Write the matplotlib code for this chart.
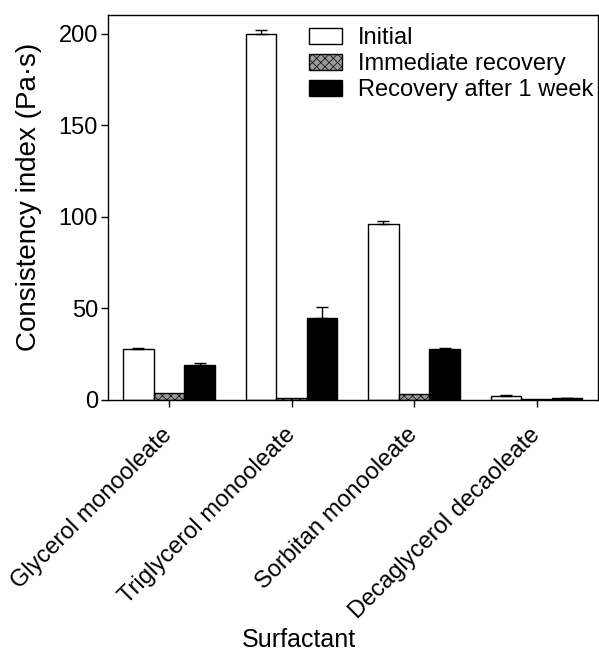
import numpy as np
from matplotlib import pyplot as plt

plt.rcParams['font.family'] = ['Liberation Sans', 'DejaVu Sans']
plt.rcParams['hatch.linewidth'] = 0.5

surfactants = ['Glycerol monooleate', 'Triglycerol monooleate',
               'Sorbitan monooleate', 'Decaglycerol decaoleate']
initial = [28.0, 200.0, 95.8, 2.2]
initial_err = [0.3, 2.0, 1.8, 0.5]
immediate = [3.6, 1.3, 3.3, 0.3]
immediate_err = [0.0, 0.0, 0.0, 0.0]
week = [19.0, 44.9, 28.0, 1.1]
week_err = [1.3, 6.0, 0.3, 0.1]

fig = plt.figure(figsize=(5.99, 6.61), dpi=100)
ax = fig.add_axes([0.180, 0.395, 0.818, 0.582])

x = np.arange(len(surfactants))
w = 0.25
zero = np.zeros(len(x))
ekw = dict(elinewidth=1.0, capthick=1.0, ecolor='black')
ax.bar(x - w, initial, w, color='white', edgecolor='black', linewidth=1.0,
       yerr=[zero, initial_err], capsize=4, error_kw=ekw, label='Initial')
ax.bar(x, immediate, w, color='#9a9a9a', edgecolor='black', linewidth=1.0,
       hatch='xxxx', yerr=[zero, immediate_err], capsize=0, error_kw=ekw,
       label='Immediate recovery')
ax.bar(x + w, week, w, color='black', edgecolor='black', linewidth=1.0,
       yerr=[zero, week_err], capsize=4, error_kw=ekw,
       label='Recovery after 1 week')

ax.set_xlim(-0.5, 3.5)
ax.set_ylim(0, 210)
ax.set_yticks([0, 50, 100, 150, 200])
ax.set_xticks(x)
ax.set_xticklabels(surfactants, rotation=45, ha='right', va='center',
                   rotation_mode='anchor')
ax.tick_params(axis='both', direction='out', length=5, width=1, labelsize=17)
ax.tick_params(axis='y', pad=2)
ax.tick_params(axis='x', pad=18)
for s in ax.spines.values():
    s.set_linewidth(1.0)
ax.set_ylabel('Consistency index (Pa·s)', fontsize=20)
ax.yaxis.set_label_coords(-0.135, 0.527)
ax.set_xlabel('Surfactant', fontsize=18, va='center')
ax.xaxis.set_label_coords(0.39, -0.623)

ax.legend(loc='upper left', bbox_to_anchor=(0.41, 0.969), frameon=False,
          fontsize=17, handlelength=1.4, handleheight=0.7,
          labelspacing=0.17, handletextpad=0.7, borderaxespad=0, borderpad=0)

fig.savefig('out.png', dpi=100)
